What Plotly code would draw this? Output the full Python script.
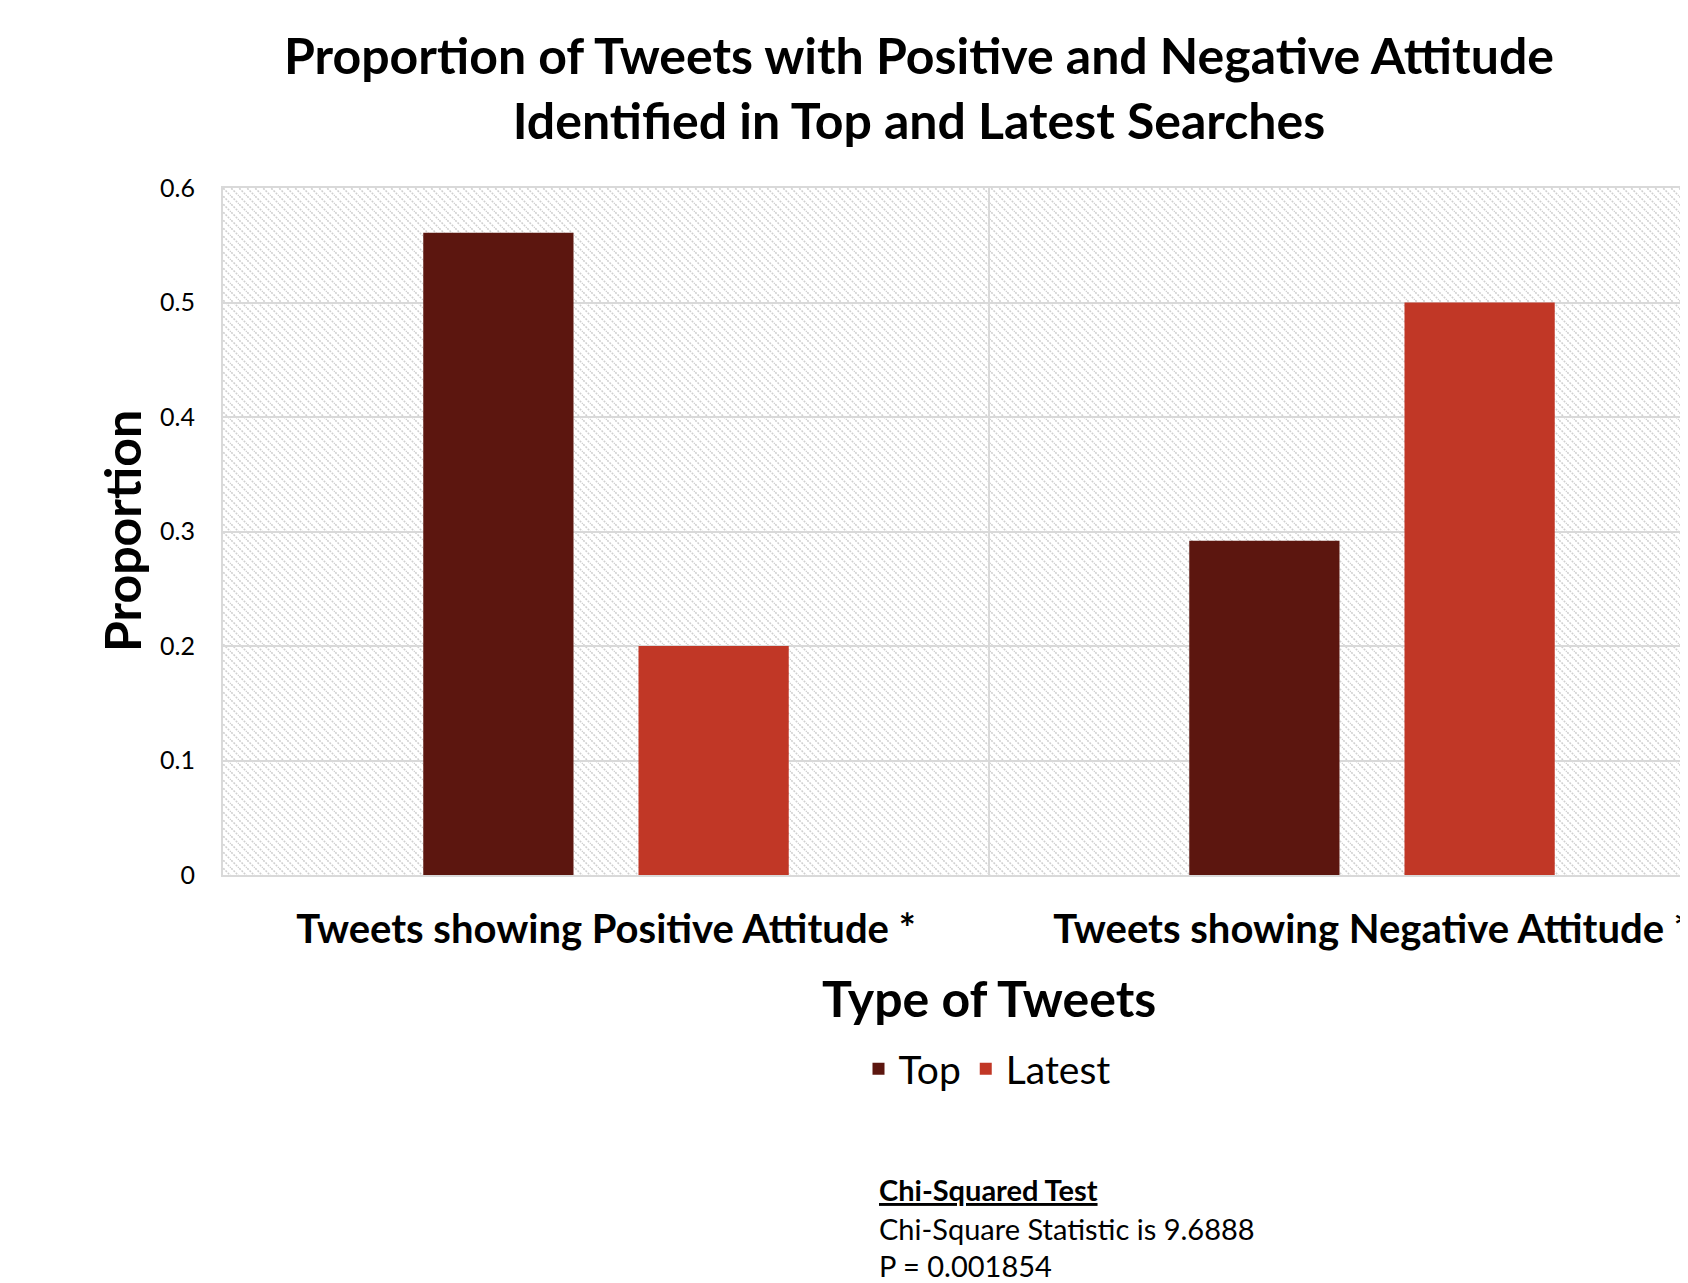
import base64
import plotly.graph_objects as go

categories = ["Tweets showing Positive Attitude *", "Tweets showing Negative Attitude *"]
series_names = ["Top", "Latest"]
top_values = [0.561, 0.292]
latest_values = [0.2, 0.5]
colors = ["#5C160F", "#C13726"]
y_ticks = [0, 0.1, 0.2, 0.3, 0.4, 0.5, 0.6]
chi_lines = ["<b><u>Chi-Squared Test</u></b>", "Chi-Square Statistic is 9.6888", "P = 0.001854"]

W, H = 1688, 1283
OFF = 8  # page body margin
ML, MR, MT = 215, 0, 180
PLOT_BOTTOM = 867
MB = H - PLOT_BOTTOM
PW, PH = W - ML - MR, H - MT - MB
FONT = "Lato, 'Open Sans', sans-serif"

svg = (
    f"<svg xmlns='http://www.w3.org/2000/svg' width='{PW}' height='{PH}' viewBox='0 0 {PW} {PH}' preserveAspectRatio='none'>"
    "<defs><pattern id='p' width='8' height='8' patternUnits='userSpaceOnUse'>"
    "<path d='M-2,-2 L10,10 M-2,6 L2,10 M6,-2 L10,2' stroke='#d0d0d0' stroke-width='1.6' stroke-dasharray='2,1.2'/>"
    "</pattern></defs><rect width='100%' height='100%' fill='white'/>"
    "<rect width='100%' height='100%' fill='url(#p)'/></svg>"
)
src = "data:image/svg+xml;base64," + base64.b64encode(svg.encode()).decode()

fig = go.Figure()
for name, vals, col in zip(series_names, [top_values, latest_values], colors):
    fig.add_trace(go.Bar(x=categories, y=vals, name=name, marker=dict(color=col, line=dict(width=0))))

cat_px = 766.0
x_right = -0.5 + PW / cat_px

def px_x(px):
    return (px - OFF - ML) / PW

def px_y(py):
    return (PLOT_BOTTOM - (py - OFF)) / PH

annotations = [
    dict(text="<b>Proportion</b>", x=px_x(122), y=px_y(531), xref="paper", yref="paper",
         textangle=-90, showarrow=False, font=dict(size=50, color="black", family=FONT),
         xanchor="center", yanchor="middle"),
    dict(text="<b>Type of Tweets</b>", x=px_x(989), y=px_y(998), xref="paper", yref="paper",
         showarrow=False, font=dict(size=50, color="black", family=FONT),
         xanchor="center", yanchor="middle"),
]
for line, py in zip(chi_lines, [1189, 1228, 1265]):
    annotations.append(dict(text=line, x=px_x(877), y=px_y(py), xref="paper", yref="paper",
                            showarrow=False, font=dict(size=29, color="black", family=FONT),
                            xanchor="left", yanchor="middle"))

fig.update_layout(
    template="none",
    width=W, height=H,
    margin=dict(l=ML, r=MR, t=MT, b=MB, pad=0),
    paper_bgcolor="white", plot_bgcolor="white",
    font=dict(family=FONT, color="black"),
    title=dict(text="<b>Proportion of Tweets with Positive and Negative Attitude<br>Identified in Top and Latest Searches</b>",
               x=911 / W, xanchor="center", xref="container",
               y=1 - 66 / H, yanchor="middle", yref="container",
               font=dict(size=50, color="black", family=FONT)),
    barmode="group", bargap=0.438, bargroupgap=0.302,
    xaxis=dict(range=[-0.5, x_right], tickson="boundaries", showgrid=True, gridcolor="#d9d9d9", gridwidth=2,
               ticks="", showline=True, linecolor="#d9d9d9", linewidth=2, mirror=True,
               tickfont=dict(size=40, color="black", family=FONT, weight="bold"),
               ticklabelstandoff=18, automargin=False, zeroline=False),
    yaxis=dict(range=[0, 0.6], tickvals=y_ticks, ticktext=[f"{v:g}" for v in y_ticks],
               showgrid=True, gridcolor="#d9d9d9", gridwidth=2, ticks="",
               showline=True, linecolor="#d9d9d9", linewidth=2, mirror=True,
               tickfont=dict(size=25, color="black", family=FONT),
               ticklabelstandoff=21, automargin=False, zeroline=False),
    legend=dict(orientation="h", x=px_x(987), y=px_y(1069), xanchor="center", yanchor="middle",
                font=dict(size=39, color="black", family=FONT), bgcolor="rgba(0,0,0,0)",
                itemwidth=30, traceorder="normal"),
    annotations=annotations,
    images=[dict(source=src, xref="paper", yref="paper", x=0, y=1, sizex=1, sizey=1,
                 xanchor="left", yanchor="top", sizing="stretch", layer="below")],
)

fig.write_html("out.html")
